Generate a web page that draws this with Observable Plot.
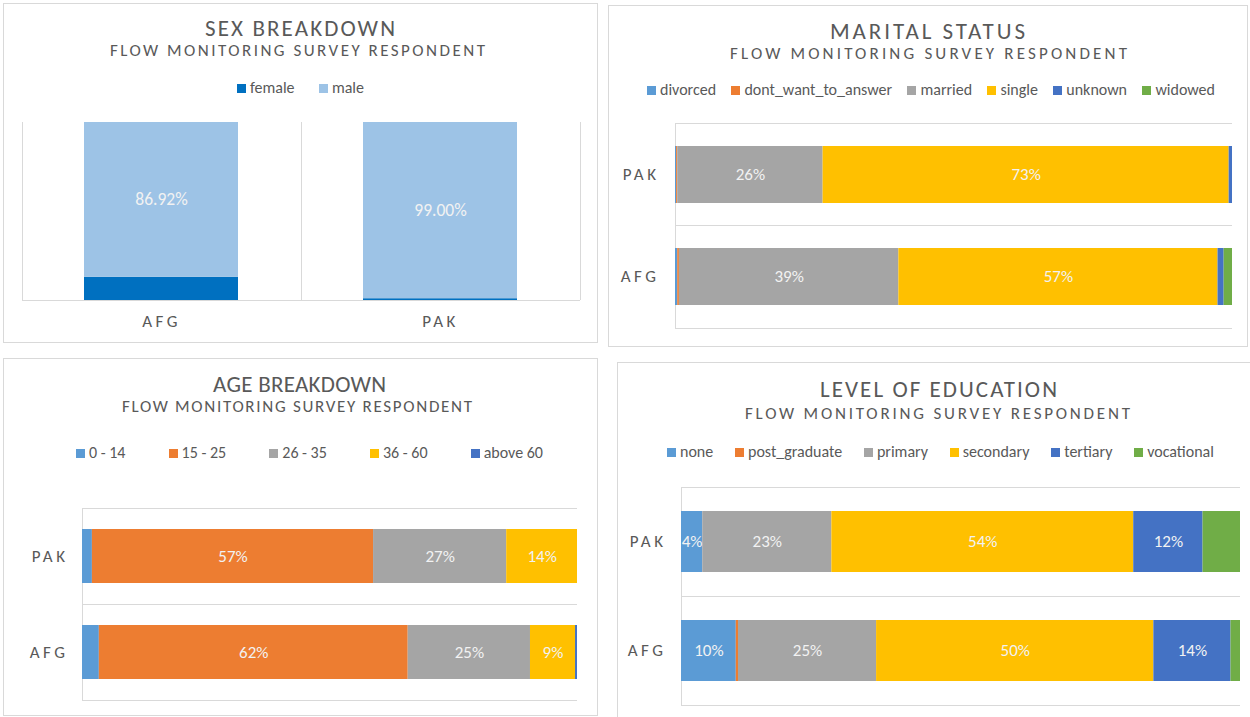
<!DOCTYPE html>
<html><head><meta charset="utf-8">
<script src="https://cdn.jsdelivr.net/npm/d3@7"></script>
<script src="https://cdn.jsdelivr.net/npm/@observablehq/plot@0.6"></script>
<style>
body{margin:0;background:#fff;overflow:hidden;}
#root{position:relative;width:1250px;height:717px;overflow:hidden;font-family:Carlito,Calibri,Lato,sans-serif;color:#595959;font-weight:300;}
.panel{position:absolute;border:1px solid #D9D9D9;box-sizing:border-box;background:#fff;}
.t{position:absolute;white-space:nowrap;transform:translateY(-50%);line-height:1;}
.leg{position:absolute;display:flex;justify-content:space-between;align-items:center;transform:translateY(-50%);font-size:16px;white-space:nowrap;line-height:1;}
.sw{display:inline-block;width:9px;height:9px;margin-right:4px;vertical-align:middle;position:relative;top:-1px;}
.chart{position:absolute;}
.chart svg text{font-family:Carlito,Calibri,Lato,sans-serif;font-weight:300;}
.chart svg [aria-label$="tick label"] text{letter-spacing:3.5px;}
</style>
</head><body><div id="root"></div>
<script>
// ---------- DATA ----------
const countriesSex = ["AFG", "PAK"];
const sexSeries = ["female", "male"];
const sexColors = ["#0070C0", "#9DC3E6"];
const sexFemale = [13.08, 1.00];
const sexMale = [86.92, 99.00];
const sexLabeled = ["male"];

const countriesBar = ["PAK", "AFG"];
const maritalSeries = ["divorced", "dont_want_to_answer", "married", "single", "unknown", "widowed"];
const maritalColors = ["#5B9BD5", "#ED7D31", "#A5A5A5", "#FFC000", "#4472C4", "#70AD47"];
const maritalPAK = [0.2, 0.2, 26.1, 72.9, 0.6, 0.0];
const maritalAFG = [0.4, 0.3, 39.4, 57.3, 1.1, 1.5];
const maritalLabeled = ["married", "single"];

const ageSeries = ["0 - 14", "15 - 25", "26 - 35", "36 - 60", "above 60"];
const ageColors = ["#5B9BD5", "#ED7D31", "#A5A5A5", "#FFC000", "#4472C4"];
const agePAK = [2.0, 56.8, 26.9, 14.3, 0.0];
const ageAFG = [3.4, 62.4, 24.7, 9.1, 0.4];
const ageLabeled = ["15 - 25", "26 - 35", "36 - 60"];

const eduSeries = ["none", "post_graduate", "primary", "secondary", "tertiary", "vocational"];
const eduColors = ["#5B9BD5", "#ED7D31", "#A5A5A5", "#FFC000", "#4472C4", "#70AD47"];
const eduPAK = [3.8, 0.0, 23.1, 54.0, 12.4, 6.7];
const eduAFG = [9.8, 0.4, 24.7, 49.6, 13.8, 1.7];
const eduLabeled = ["none", "primary", "secondary", "tertiary"];

const subtitleText = "FLOW MONITORING SURVEY RESPONDENT";

// ---------- LAYOUT HELPERS ----------
const root = document.getElementById("root");
function panel(x1, y1, x2, y2) {
  const d = document.createElement("div");
  d.className = "panel";
  Object.assign(d.style, {left: x1 + "px", top: y1 + "px", width: (x2 - x1) + "px", height: (y2 - y1) + "px"});
  root.appendChild(d);
}
function fitText(text, x1, x2, y, size, weight) {
  const s = document.createElement("span");
  s.className = "t";
  s.textContent = text;
  s.style.fontSize = size + "px";
  s.style.fontWeight = weight;
  s.style.left = x1 + "px";
  s.style.top = y + "px";
  root.appendChild(s);
  const w = s.getBoundingClientRect().width;
  const ls = (x2 - x1 - w) / (text.length - 1);
  s.style.letterSpacing = ls + "px";
}
function legend(series, colors, x1, x2, y) {
  const d = document.createElement("div");
  d.className = "leg";
  Object.assign(d.style, {left: x1 + "px", width: (x2 - x1) + "px", top: y + "px"});
  series.forEach((s, i) => {
    const it = document.createElement("span");
    it.innerHTML = `<span class="sw" style="background:${colors[i]}"></span>${s}`;
    d.appendChild(it);
  });
  root.appendChild(d);
}
function place(svg, x, y) {
  const d = document.createElement("div");
  d.className = "chart";
  d.style.left = x + "px";
  d.style.top = y + "px";
  d.appendChild(svg);
  root.appendChild(d);
}
function hGrid(n) {
  return (index, scales, values, dim) => {
    const {width, height, marginTop, marginRight, marginBottom, marginLeft} = dim;
    const g = d3.create("svg:g").attr("stroke", "#D9D9D9").attr("shape-rendering", "crispEdges");
    const y0 = marginTop, y1 = height - marginBottom;
    for (let i = 0; i <= n; i++) {
      const y = y0 + (y1 - y0) * i / n;
      g.append("line").attr("x1", marginLeft).attr("x2", width - marginRight).attr("y1", y).attr("y2", y);
    }
    g.append("line").attr("x1", marginLeft).attr("x2", marginLeft).attr("y1", y0).attr("y2", y1);
    return g.node();
  };
}
function vGrid(n) {
  return (index, scales, values, dim) => {
    const {width, height, marginTop, marginRight, marginBottom, marginLeft} = dim;
    const g = d3.create("svg:g").attr("stroke", "#D9D9D9").attr("shape-rendering", "crispEdges");
    const x0 = marginLeft, x1 = width - marginRight, y1 = height - marginBottom;
    for (let i = 0; i <= n; i++) {
      const x = x0 + (x1 - x0) * i / n;
      g.append("line").attr("x1", x).attr("x2", x).attr("y1", marginTop).attr("y2", y1);
    }
    g.append("line").attr("x1", x0).attr("x2", x1).attr("y1", y1).attr("y2", y1);
    return g.node();
  };
}
function tidy(countries, rows, series) {
  const out = [];
  countries.forEach((c, ci) => rows[ci].forEach((v, i) => out.push({country: c, series: series[i], value: v})));
  return out;
}
function hbar(countries, rows, series, colors, labeled, dims) {
  const data = tidy(countries, rows, series);
  return Plot.plot({
    width: dims.w, height: dims.h,
    marginLeft: dims.ml, marginRight: dims.mr, marginTop: dims.mt, marginBottom: dims.mb,
    style: {color: "#595959", background: "transparent"},
    x: {domain: [0, 100], axis: null, label: null},
    y: {domain: countries, paddingInner: 0.44, paddingOuter: 0.22, axis: null, label: null},
    color: {domain: series, range: colors},
    marks: [
      hGrid(countries.length),
      Plot.barX(data, Plot.stackX({x: "value", y: "country", fill: "series"})),
      Plot.text(data, Plot.stackX({x: "value", y: "country",
        text: d => labeled.includes(d.series) ? Math.round(d.value) + "%" : null,
        fill: "#F2F2F2", fontSize: 17})),
      Plot.axisY({tickSize: 0, tickPadding: dims.pad, fontSize: 17, label: null})
    ]
  });
}

// ---------- PANEL 1: SEX ----------
panel(3, 3, 598, 343);
fitText("SEX BREAKDOWN", 205, 395, 28, 23, 400);
fitText(subtitleText, 110, 485, 50, 17, 300);
legend(sexSeries, sexColors, 237, 364, 88);
{
  const data = tidy(countriesSex, countriesSex.map((c, i) => [sexFemale[i], sexMale[i]]), sexSeries);
  const svg = Plot.plot({
    width: 595, height: 230, marginLeft: 19, marginRight: 18, marginTop: 12, marginBottom: 40,
    style: {color: "#595959", background: "transparent"},
    x: {domain: countriesSex, paddingInner: 0.448, paddingOuter: 0.224, axis: null, label: null},
    y: {domain: [0, 100], axis: null, label: null},
    color: {domain: sexSeries, range: sexColors},
    marks: [
      vGrid(countriesSex.length),
      Plot.barY(data, Plot.stackY({x: "country", y: "value", fill: "series"})),
      Plot.text(data, Plot.stackY({x: "country", y: "value",
        text: d => sexLabeled.includes(d.series) ? d.value.toFixed(2) + "%" : null,
        fill: "#F2F2F2", fontSize: 17.5})),
      Plot.axisX({tickSize: 0, tickPadding: 14, fontSize: 17, label: null})
    ]
  });
  place(svg, 3, 110);
}

// ---------- PANEL 2: MARITAL ----------
panel(608, 5, 1248, 347);
fitText("MARITAL STATUS", 830, 1025, 31, 23, 400);
fitText(subtitleText, 730, 1127, 53, 17, 300);
legend(maritalSeries, maritalColors, 647, 1215, 90);
place(hbar(countriesBar, [maritalPAK, maritalAFG], maritalSeries, maritalColors, maritalLabeled,
  {w: 640, h: 237, ml: 67, mr: 16, mt: 13, mb: 19, pad: 16}), 608, 110);

// ---------- PANEL 3: AGE ----------
panel(3, 358, 598, 716);
fitText("AGE BREAKDOWN", 213, 386, 384, 23, 400);
fitText(subtitleText, 122, 472, 406, 17, 300);
legend(ageSeries, ageColors, 76, 543, 453);
place(hbar(countriesBar, [agePAK, ageAFG], ageSeries, ageColors, ageLabeled,
  {w: 595, h: 226, ml: 79, mr: 21, mt: 18, mb: 16, pad: 14}), 3, 490);

// ---------- PANEL 4: EDUCATION ----------
panel(617, 362, 1262, 730);
fitText("LEVEL OF EDUCATION", 820, 1057, 389, 23, 400);
fitText(subtitleText, 745, 1130, 413, 17, 300);
legend(eduSeries, eduColors, 667, 1214, 452);
place(hbar(countriesBar, [eduPAK, eduAFG], eduSeries, eduColors, eduLabeled,
  {w: 633, h: 247, ml: 64, mr: 10, mt: 17, mb: 12, pad: 15}), 617, 470);
</script>
</body></html>
